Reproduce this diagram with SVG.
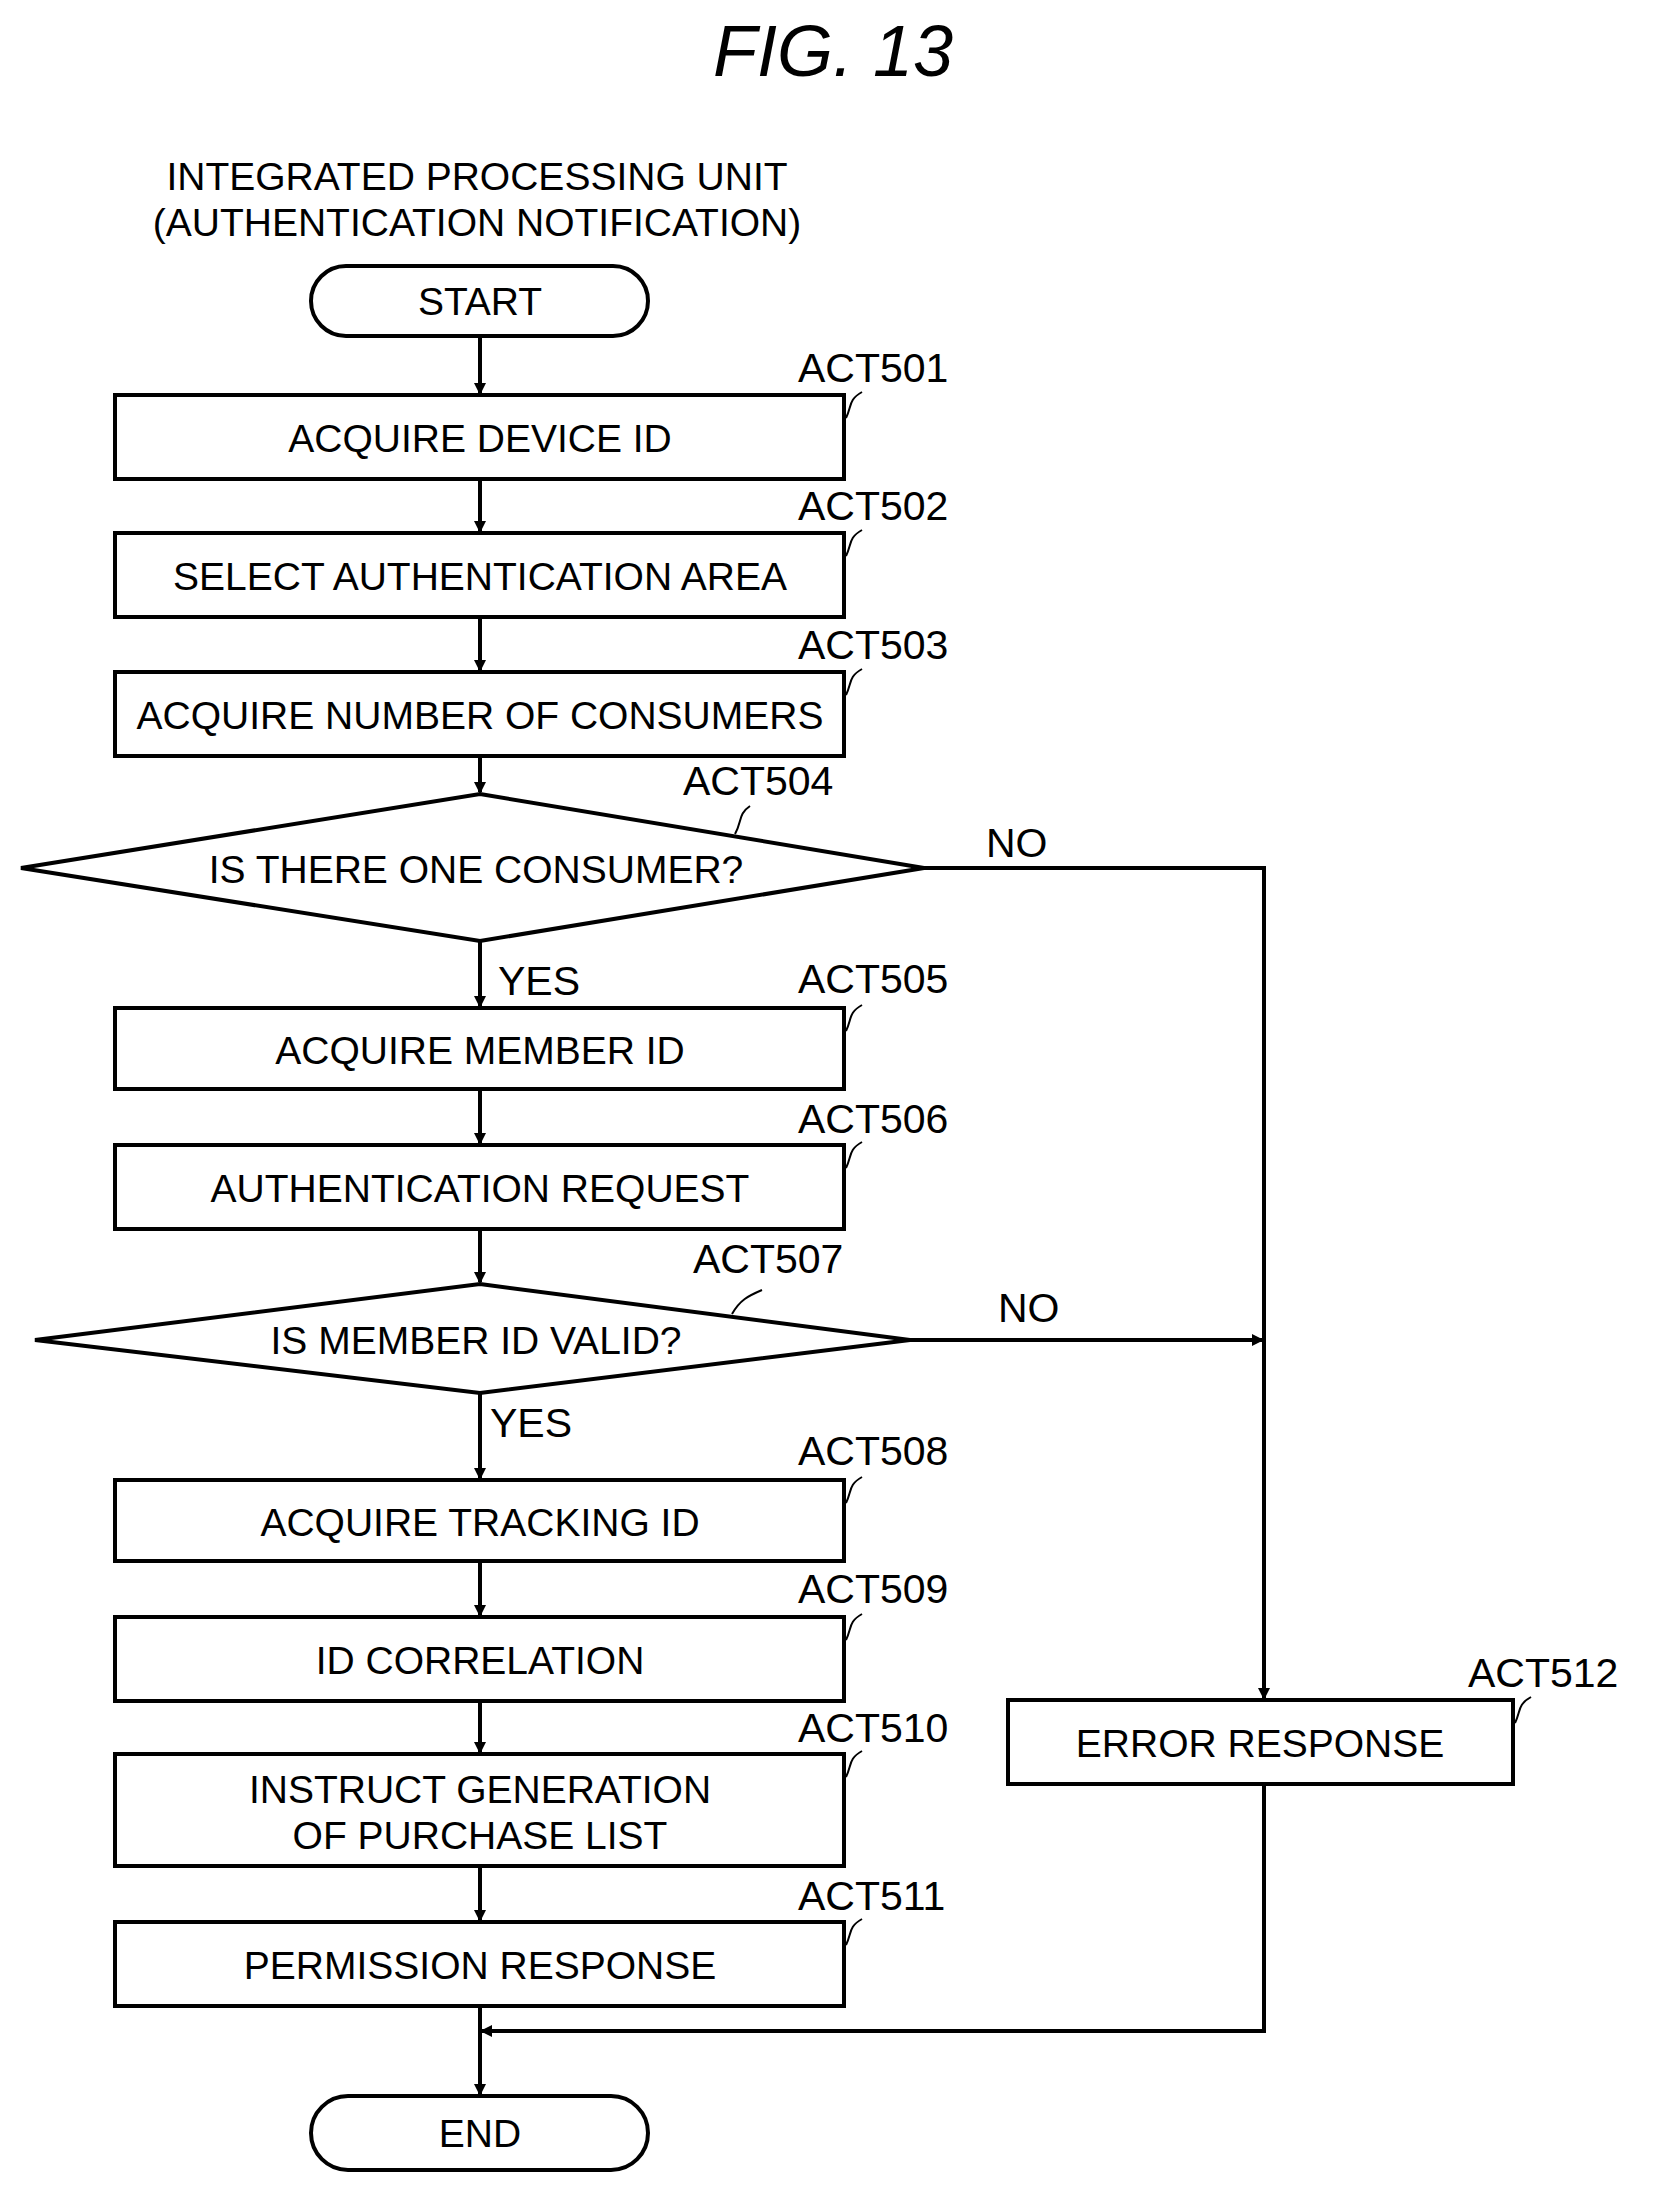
<svg xmlns="http://www.w3.org/2000/svg" width="1665" height="2200" viewBox="0 0 1665 2200">
<defs>
<marker id="ah" markerWidth="12" markerHeight="12" refX="10" refY="6" orient="auto" markerUnits="userSpaceOnUse"><path d="M0,0 L12,6 L0,12 z" fill="#000"/></marker>
<style>
.s{fill:#fff;stroke:#000;stroke-width:4}
.t{font-family:"Liberation Sans",Arial,sans-serif;font-size:39px;text-anchor:middle;fill:#000}
.l{font-family:"Liberation Sans",Arial,sans-serif;font-size:41px;fill:#000}
.c{fill:none;stroke:#000;stroke-width:4}
.q{fill:none;stroke:#000;stroke-width:2}
</style>
</defs>
<rect width="1665" height="2200" fill="#fff"/>
<text x="833" y="76" font-family="Liberation Sans,Arial,sans-serif" font-size="72" font-style="italic" text-anchor="middle">FIG. 13</text>
<text class="t" x="477" y="190">INTEGRATED PROCESSING UNIT</text>
<text class="t" x="477" y="236">(AUTHENTICATION NOTIFICATION)</text>
<g id="connectors">
<path class="c" d="M480,336 V393" marker-end="url(#ah)"/>
<path class="c" d="M480,479 V531" marker-end="url(#ah)"/>
<path class="c" d="M480,617 V670" marker-end="url(#ah)"/>
<path class="c" d="M480,756 V792" marker-end="url(#ah)"/>
<path class="c" d="M480,941 V1006" marker-end="url(#ah)"/>
<path class="c" d="M480,1089 V1143" marker-end="url(#ah)"/>
<path class="c" d="M480,1229 V1282" marker-end="url(#ah)"/>
<path class="c" d="M480,1393 V1478" marker-end="url(#ah)"/>
<path class="c" d="M480,1561 V1615" marker-end="url(#ah)"/>
<path class="c" d="M480,1701 V1752" marker-end="url(#ah)"/>
<path class="c" d="M480,1866 V1920" marker-end="url(#ah)"/>
<path class="c" d="M480,2006 V2094" marker-end="url(#ah)"/>
<path class="c" d="M924,868 H1264 V1698" marker-end="url(#ah)"/>
<path class="c" d="M910,1340 H1262" marker-end="url(#ah)"/>
<path class="c" d="M1264,1784 V2031 H482" marker-end="url(#ah)"/>
<text class="l" x="986" y="857">NO</text>
<text class="l" x="998" y="1322">NO</text>
<text class="l" x="498" y="995">YES</text>
<text class="l" x="490" y="1437">YES</text>
</g>
<g id="start"><rect class="s" x="311" y="266" width="337" height="70" rx="35"/><text class="t" x="480" y="315">START</text></g>
<g id="act501"><rect class="s" x="115" y="395" width="729" height="84"/><text class="t" x="480" y="452">ACQUIRE DEVICE ID</text><text class="l" x="798" y="382">ACT501</text><path class="q" d="M846,418 C852,406 848,400 862,392"/></g>
<g id="act502"><rect class="s" x="115" y="533" width="729" height="84"/><text class="t" x="480" y="590">SELECT AUTHENTICATION AREA</text><text class="l" x="798" y="520">ACT502</text><path class="q" d="M846,556 C852,544 848,538 862,530"/></g>
<g id="act503"><rect class="s" x="115" y="672" width="729" height="84"/><text class="t" x="480" y="729">ACQUIRE NUMBER OF CONSUMERS</text><text class="l" x="798" y="659">ACT503</text><path class="q" d="M846,695 C852,683 848,677 862,669"/></g>
<g id="act504"><polygon class="s" points="480,794 924,868 480,941 21,868"/><text class="t" x="476" y="883">IS THERE ONE CONSUMER?</text><text class="l" x="683" y="795">ACT504</text><path class="q" d="M735,834 C742,822 738,814 750,806"/></g>
<g id="act505"><rect class="s" x="115" y="1008" width="729" height="81"/><text class="t" x="480" y="1064">ACQUIRE MEMBER ID</text><text class="l" x="798" y="993">ACT505</text><path class="q" d="M846,1031 C852,1019 848,1013 862,1005"/></g>
<g id="act506"><rect class="s" x="115" y="1145" width="729" height="84"/><text class="t" x="480" y="1202">AUTHENTICATION REQUEST</text><text class="l" x="798" y="1133">ACT506</text><path class="q" d="M846,1168 C852,1156 848,1150 862,1142"/></g>
<g id="act507"><polygon class="s" points="480,1284 910,1340 480,1393 35,1340"/><text class="t" x="476" y="1354">IS MEMBER ID VALID?</text><text class="l" x="693" y="1273">ACT507</text><path class="q" d="M732,1314 C740,1300 748,1296 762,1290"/></g>
<g id="act508"><rect class="s" x="115" y="1480" width="729" height="81"/><text class="t" x="480" y="1536">ACQUIRE TRACKING ID</text><text class="l" x="798" y="1465">ACT508</text><path class="q" d="M846,1503 C852,1491 848,1485 862,1477"/></g>
<g id="act509"><rect class="s" x="115" y="1617" width="729" height="84"/><text class="t" x="480" y="1674">ID CORRELATION</text><text class="l" x="798" y="1603">ACT509</text><path class="q" d="M846,1640 C852,1628 848,1622 862,1614"/></g>
<g id="act510"><rect class="s" x="115" y="1754" width="729" height="112"/><text class="t" x="480" y="1803">INSTRUCT GENERATION</text><text class="t" x="480" y="1849">OF PURCHASE LIST</text><text class="l" x="798" y="1742">ACT510</text><path class="q" d="M846,1777 C852,1765 848,1759 862,1751"/></g>
<g id="act511"><rect class="s" x="115" y="1922" width="729" height="84"/><text class="t" x="480" y="1979">PERMISSION RESPONSE</text><text class="l" x="798" y="1910">ACT511</text><path class="q" d="M846,1945 C852,1933 848,1927 862,1919"/></g>
<g id="act512"><rect class="s" x="1008" y="1700" width="505" height="84"/><text class="t" x="1260" y="1757">ERROR RESPONSE</text><text class="l" x="1468" y="1687">ACT512</text><path class="q" d="M1515,1723 C1521,1711 1517,1705 1531,1697"/></g>
<g id="end"><rect class="s" x="311" y="2096" width="337" height="74" rx="37"/><text class="t" x="480" y="2147">END</text></g>
</svg>
